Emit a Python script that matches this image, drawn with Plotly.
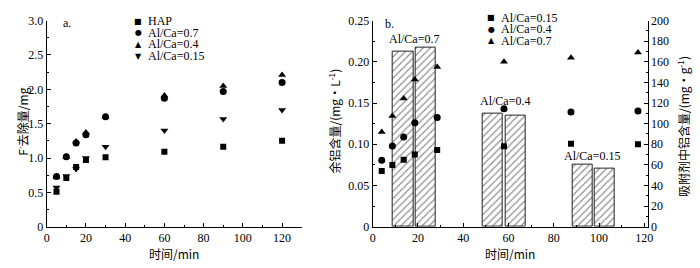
import plotly.graph_objects as go

# ---------------- data ----------------
# panel a: fluoride removal vs time
time_a = [5, 10, 15, 20, 30, 60, 90, 120]
hap = [0.51, 0.71, 0.87, 0.97, 1.01, 1.09, 1.165, 1.25]
alca07_a = [0.73, 1.02, 1.22, 1.34, 1.60, 1.87, 1.97, 2.10]
alca04_a = [0.72, 1.02, 1.24, 1.37, 1.60, 1.91, 2.05, 2.21]
alca015_a = [0.57, 0.74, 0.84, 1.00, 1.165, 1.40, 1.57, 1.70]

# panel b: residual Al (bars, left axis) and Al in adsorbent (points, right axis)
bar_x = [13.5, 23.6, 53.1, 63.0, 92.6, 102.4]
bar_residual_al = [0.212, 0.217, 0.137, 0.135, 0.0755, 0.0706]
bar_labels = ["Al/Ca=0.7", "Al/Ca=0.4", "Al/Ca=0.15"]
bar_label_x = [18.3, 58.5, 96.9]
bar_label_y = [0.228, 0.153, 0.086]

time_b = [4.0, 8.7, 13.7, 18.6, 28.5, 58.0, 87.6, 117.2]
adsorbed_015 = [54, 60, 65, 70, 74.5, 78, 80.6, 80]
adsorbed_04 = [64.5, 78.4, 87, 101, 106, 114.5, 111.3, 112.2]
adsorbed_07 = [92, 107.5, 124.5, 143, 155, 160, 164, 169]

yticks_a = [0, 0.5, 1.0, 1.5, 2.0, 2.5, 3.0]
yticklabels_a = ["0", "0.5", "1.0", "1.5", "2.0", "2.5", "3.0"]
yticks_b = [0, 0.05, 0.10, 0.15, 0.20, 0.25]
yticklabels_b = ["0", "0.05", "0.10", "0.15", "0.20", "0.25"]
yticks_b2 = list(range(0, 201, 20))
xticks = [0, 20, 40, 60, 80, 100, 120]

legend_a = ["HAP", "Al/Ca=0.7", "Al/Ca=0.4", "Al/Ca=0.15"]
legend_b = ["Al/Ca=0.15", "Al/Ca=0.4", "Al/Ca=0.7"]

FONT = "Liberation Serif, Noto Sans CJK SC, serif"
CJK = "Noto Sans CJK SC, Liberation Serif"

fig = go.Figure()

# panel a scatter
series_a = [
    (hap, "square", legend_a[0], 6),
    (alca07_a, "circle", legend_a[1], 7),
    (alca04_a, "triangle-up", legend_a[2], 7),
    (alca015_a, "triangle-down", legend_a[3], 7),
]
for vals, sym, name, sz in series_a:
    fig.add_trace(go.Scatter(x=time_a, y=vals, mode="markers", name=name,
                             marker=dict(symbol=sym, size=sz, color="black"),
                             xaxis="x", yaxis="y", showlegend=False))

# panel b bars
fig.add_trace(go.Bar(x=bar_x, y=bar_residual_al, width=8.9, xaxis="x2", yaxis="y2",
                     showlegend=False,
                     marker=dict(color="white", line=dict(color="#222", width=1),
                                 pattern=dict(shape="/", fgcolor="#222", bgcolor="white",
                                              size=5, solidity=0.25))))

# panel b scatter (right axis)
series_b = [
    (adsorbed_015, "square", legend_b[0], 6),
    (adsorbed_04, "circle", legend_b[1], 7),
    (adsorbed_07, "triangle-up", legend_b[2], 7),
]
for vals, sym, name, sz in series_b:
    fig.add_trace(go.Scatter(x=time_b, y=vals, mode="markers", name=name,
                             marker=dict(symbol=sym, size=sz, color="black"),
                             xaxis="x2", yaxis="y3", showlegend=False))

axis_common = dict(showline=True, linecolor="black", linewidth=1, ticks="inside",
                   ticklen=4, tickcolor="black", showgrid=False, zeroline=False,
                   tickfont=dict(family=FONT, size=12, color="black"))

ydom = [0.154, 0.923]
title_font = dict(family=CJK, size=12, color="black")
fig.update_layout(
    width=700, height=268,
    margin=dict(l=0, r=0, t=0, b=0, autoexpand=False),
    plot_bgcolor="white", paper_bgcolor="white",
    bargap=0,
    xaxis=dict(domain=[0.0667, 0.431], range=[0, 130], tickvals=xticks,
               minor=dict(ticks="inside", ticklen=2, dtick=10, tick0=0, tickcolor="black"),
               title=dict(text="时间/min", font=title_font, standoff=2),
               anchor="y", **axis_common),
    yaxis=dict(domain=ydom, range=[0, 3.0], tickvals=yticks_a, ticktext=yticklabels_a,
               minor=dict(ticks="inside", ticklen=2, dtick=0.25, tick0=0, tickcolor="black"),
               anchor="x", **axis_common),
    xaxis2=dict(domain=[0.5324, 0.9253], range=[0, 121.5], tickvals=xticks,
                minor=dict(ticks="inside", ticklen=2, dtick=10, tick0=0, tickcolor="black"),
                title=dict(text="时间/min", font=title_font, standoff=2),
                anchor="y2", **axis_common),
    yaxis2=dict(domain=ydom, range=[0, 0.25], tickvals=yticks_b, ticktext=yticklabels_b,
                minor=dict(ticks="inside", ticklen=2, dtick=0.025, tick0=0, tickcolor="black"),
                anchor="x2", **axis_common),
    yaxis3=dict(domain=ydom, range=[0, 200], tickvals=yticks_b2, overlaying="y2", side="right",
                minor=dict(ticks="inside", ticklen=2, dtick=10, tick0=0, tickcolor="black"),
                anchor="x2", **axis_common),
)

ann = []
# y-axis titles (placed as rotated text for exact position)
ytitles = [("F<sup>-</sup>去除量/mg", 21.7, 122),
           ("余铝含量/(mg·L<sup>-1</sup>)", 333, 121.5),
           ("吸附剂中铝含量/(mg·g<sup>-1</sup>)", 683, 127)]
for t, px, py in ytitles:
    ann.append(dict(x=px / 700, y=1 - py / 268, xref="paper", yref="paper", text=t,
                    showarrow=False, textangle=-90, xanchor="center", yanchor="middle",
                    font=title_font))
# panel labels
ann.append(dict(x=0.087, y=0.915, xref="paper", yref="paper", text="a.", showarrow=False,
                xanchor="left", yanchor="middle", font=dict(family=FONT, size=12, color="black")))
ann.append(dict(x=0.547, y=0.91, xref="paper", yref="paper", text="b.", showarrow=False,
                xanchor="left", yanchor="middle", font=dict(family=FONT, size=12, color="black")))
# bar labels
for t, xx, yy in zip(bar_labels, bar_label_x, bar_label_y):
    ann.append(dict(x=xx, y=yy, xref="x2", yref="y2", text=t, showarrow=False,
                    font=dict(family=FONT, size=12, color="black")))

# manual legends (compact spacing as in reference)
sym_chars = {"square": "■", "circle": "●", "triangle-up": "▲", "triangle-down": "▼"}
def add_legend(x0, y0, items, dy):
    for i, (sym, name) in enumerate(items):
        yy = y0 - i * dy
        ann.append(dict(x=x0, y=yy, xref="paper", yref="paper", text=sym_chars[sym], showarrow=False,
                        xanchor="center", yanchor="middle",
                        font=dict(family="DejaVu Sans", size=8, color="black")))
        ann.append(dict(x=x0 + 0.011, y=yy, xref="paper", yref="paper", text=name, showarrow=False,
                        xanchor="left", yanchor="middle",
                        font=dict(family=FONT, size=12, color="black")))

add_legend(138 / 700, 1 - 21 / 268, [(s[1], s[2]) for s in series_a], 11.7 / 268)
add_legend(491 / 700, 1 - 17.5 / 268, [(s[1], s[2]) for s in series_b], 11.7 / 268)

fig.update_layout(annotations=ann)
fig.write_html("out.html", config={"displayModeBar": False},
               post_script="document.body.style.margin='0';document.body.style.overflow='hidden';")
